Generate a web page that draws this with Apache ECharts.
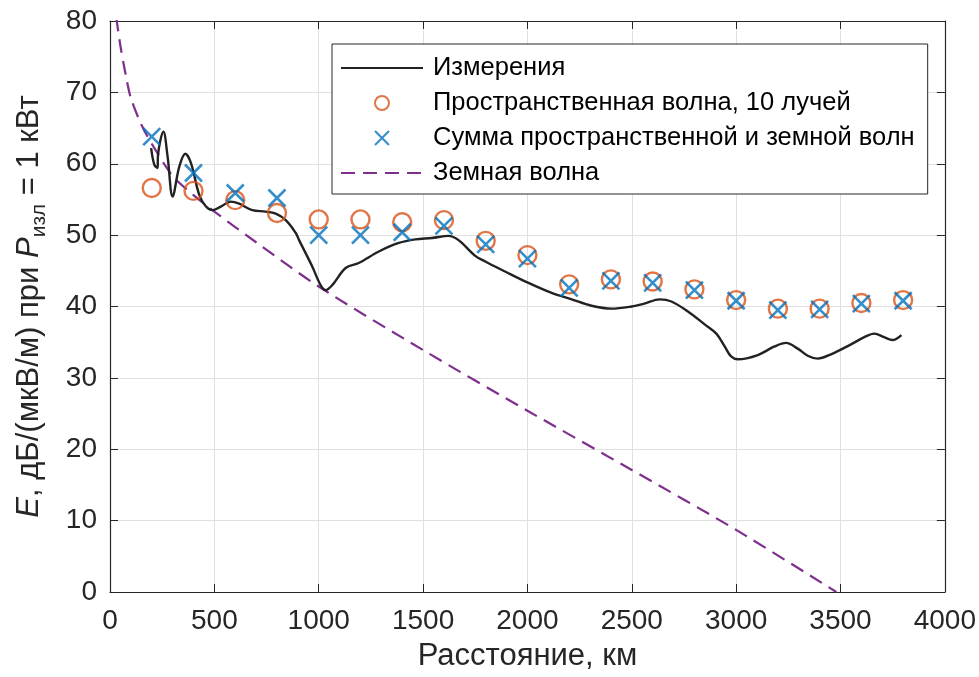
<!DOCTYPE html>
<html>
<head>
<meta charset="utf-8">
<script src="https://cdn.jsdelivr.net/npm/echarts@6/dist/echarts.min.js"></script>
<style>
html,body{margin:0;padding:0;background:#fff;}
#chart{width:979px;height:677px;}
</style>
</head>
<body>
<div id="chart"></div>
<script>
// Measured field strength (km, dB)
const measX = [197,213,228,230,256,276,300,332,361,388,428,460,491,531,579,619,682,746,794,842,890,906,969,1009,1033,1065,1129,1192,1288,1384,1463,1543,1622,1670,1750,1798,1893,2005,2116,2212,2307,2403,2499,2560,2634,2690,2769,2849,2905,2945,2976,3008,3104,3184,3239,3295,3343,3391,3454,3550,3614,3662,3709,3749,3792];
const measY = [62.2,59.8,59.4,61.2,64.5,61.0,55.4,59.6,61.4,60.1,55.6,54.0,53.5,54.0,54.7,54.4,53.5,53.3,53.0,52.1,50.3,49.3,45.6,43.0,42.3,43.0,45.4,46.1,47.7,48.9,49.4,49.6,49.9,49.3,47.1,46.3,44.9,43.3,41.9,41.0,40.1,39.7,40.0,40.4,41.0,40.7,39.3,37.5,36.2,34.4,33.0,32.6,33.2,34.4,34.9,34.1,33.1,32.7,33.3,34.7,35.7,36.2,35.7,35.3,36.0];

// Model points
const modelX = [200,400,600,800,1000,1200,1400,1600,1800,2000,2200,2400,2600,2800,3000,3200,3400,3600,3800];
const skyY = [56.6,56.2,54.9,53.1,52.2,52.2,51.8,52.1,49.2,47.2,43.1,43.8,43.5,42.4,40.9,39.7,39.7,40.5,40.9];
const sumY = [63.8,58.7,55.9,55.2,50.0,50.0,50.4,51.3,48.7,46.7,42.6,43.6,43.3,42.3,40.8,39.5,39.6,40.4,40.8];

// Ground wave
const groundX = [30,50,75,100,150,200,300,400,500,700,1000,1500,2000,2500,3000,3480];
const groundY = [80.5,76.5,72.5,69.2,65.5,62.8,58.3,55.6,53.3,49.0,42.8,33.9,25.4,17.1,8.7,0];

const xTicks = {min:0,max:4000,interval:500};
const yTicks = {min:0,max:80,interval:10};

const names = ['Измерения','Пространственная волна, 10 лучей','Сумма пространственной и земной волн','Земная волна'];

const zip = (a,b)=>a.map((v,i)=>[v,b[i]]);
const axisColor = '#262626';
const font = 'Liberation Sans, Arial, Helvetica, sans-serif';

const chart = echarts.init(document.getElementById('chart'), null, {renderer:'canvas'});
const xCommon = {type:'value', min:xTicks.min, max:xTicks.max, interval:xTicks.interval};
const yCommon = {type:'value', min:yTicks.min, max:yTicks.max, interval:yTicks.interval};
chart.setOption({
  animation:false,
  backgroundColor:'#fff',
  grid:{left:110,right:33,top:21,bottom:85,containLabel:false},
  legend:{
    orient:'vertical', left:332, top:44,
    padding:[10,13,7,8],
    backgroundColor:'#fff', borderColor:axisColor, borderWidth:1,
    itemWidth:82, itemHeight:14, itemGap:7,
    textStyle:{fontFamily:font, fontSize:25.5, color:'#000', lineHeight:28, padding:[0,0,0,5]},
    data:[
      {name:names[0], itemStyle:{opacity:0}},
      {name:names[1]},
      {name:names[2]},
      {name:names[3], itemStyle:{opacity:0}}
    ]
  },
  xAxis:[
    Object.assign({}, xCommon, {
      position:'bottom',
      axisLine:{show:true,onZero:false,lineStyle:{color:axisColor,width:1.2}},
      axisTick:{show:true,inside:true,length:8,lineStyle:{color:axisColor}},
      axisLabel:{fontFamily:font,fontSize:28,color:axisColor,margin:15,formatter:v=>String(v)},
      splitLine:{show:true,lineStyle:{color:'#e0e0e0',width:1}},
      name:'Расстояние, км', nameLocation:'middle', nameGap:49,
      nameTextStyle:{fontFamily:font,fontSize:31,color:axisColor}
    }),
    Object.assign({}, xCommon, {
      position:'top',
      axisLine:{show:true,onZero:false,lineStyle:{color:axisColor,width:1.2}},
      axisTick:{show:true,inside:true,length:8,lineStyle:{color:axisColor}},
      axisLabel:{show:false}, splitLine:{show:false}
    })
  ],
  yAxis:[
    Object.assign({}, yCommon, {
      position:'left',
      axisLine:{show:true,onZero:false,lineStyle:{color:axisColor,width:1.2}},
      axisTick:{show:true,inside:true,length:8,lineStyle:{color:axisColor}},
      axisLabel:{fontFamily:font,fontSize:28,color:axisColor,margin:13,formatter:v=>String(v)},
      splitLine:{show:true,lineStyle:{color:'#e0e0e0',width:1}},
      name:'{i|E}, дБ/(мкВ/м) при {i|P}{s|изл} = 1 кВт',
      nameLocation:'middle', nameGap:60, nameRotate:90,
      nameTextStyle:{fontFamily:font,fontSize:31,color:axisColor,
        rich:{
          i:{fontFamily:font,fontSize:31,fontStyle:'italic',color:axisColor},
          s:{fontFamily:font,fontSize:21,color:axisColor,padding:[20,0,0,0]}
        }}
    }),
    Object.assign({}, yCommon, {
      position:'right',
      axisLine:{show:true,onZero:false,lineStyle:{color:axisColor,width:1.2}},
      axisTick:{show:true,inside:true,length:8,lineStyle:{color:axisColor}},
      axisLabel:{show:false}, splitLine:{show:false}
    })
  ],
  series:[
    {
      name:names[0], type:'line', data:zip(measX,measY), symbol:'none', smooth:0.35,
      lineStyle:{color:'#222222',width:2.4}, itemStyle:{color:'#222222'}, z:3
    },
    {
      name:names[1], type:'scatter', data:zip(modelX,skyY), symbol:'circle', symbolSize:18,
      itemStyle:{color:'rgba(0,0,0,0)',borderColor:'#D95319',borderWidth:2.4}, z:4
    },
    {
      name:names[2], type:'scatter', data:zip(modelX,sumY),
      symbol:'path://M0,0 L10,10 M10,0 L0,10', symbolSize:17,
      itemStyle:{color:'none',borderColor:'#0072BD',borderWidth:2.6}, z:5
    },
    {
      name:names[3], type:'line', data:zip(groundX,groundY), symbol:'none', smooth:0.3,
      clip:true,
      lineStyle:{color:'#7E2F8E',width:2.2,type:[14,8]}, itemStyle:{color:'#7E2F8E'}, z:2
    }
  ]
});
</script>
</body>
</html>
